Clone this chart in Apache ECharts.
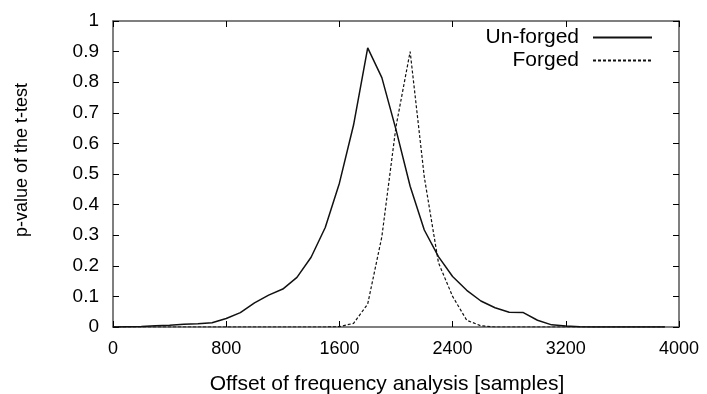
<!DOCTYPE html>
<html>
<head>
<meta charset="utf-8">
<script src="https://cdn.jsdelivr.net/npm/echarts@6/dist/echarts.min.js"></script>
<style>
  html, body { margin: 0; padding: 0; background: #fff; }
  #chart { width: 707px; height: 394px; }
</style>
</head>
<body>
<div id="chart"></div>
<script>
// offsets in samples, every 100
const offsets = [
  0, 100, 200, 300, 400, 500, 600, 700, 800, 900,
  1000, 1100, 1200, 1300, 1400, 1500, 1600, 1700, 1800, 1900,
  2000, 2100, 2200, 2300, 2400, 2500, 2600, 2700, 2800, 2900,
  3000, 3100, 3200, 3300, 3400, 3500, 3600, 3700, 3800, 3900
]
const unforged = [
  0, 0.001, 0.002, 0.004, 0.006, 0.009, 0.011, 0.014, 0.028, 0.047,
  0.079, 0.104, 0.124, 0.162, 0.228, 0.325, 0.47, 0.66, 0.912, 0.815,
  0.645, 0.46, 0.317, 0.23, 0.165, 0.12, 0.085, 0.063, 0.048, 0.047,
  0.022, 0.007, 0.003, 0.001, 0, 0, 0, 0, 0, 0
]
const forged = [
  0, 0, 0, 0, 0, 0, 0, 0, 0, 0,
  0, 0, 0, 0, 0, 0, 0.001, 0.012, 0.075, 0.295,
  0.655, 0.9, 0.49, 0.21, 0.1, 0.022, 0.004, 0, 0, 0,
  0, 0, 0, 0, 0, 0, 0, 0, 0, 0
]
const xTicks = [0, 800, 1600, 2400, 3200, 4000]

const font = 'Liberation Sans, Arial, sans-serif'
const frame = '#555'

const chart = echarts.init(document.getElementById('chart'))

const xBase = {
  type: 'value',
  min: 0,
  max: 4000,
  interval: 800,
  splitLine: { show: false },
  axisLine: { onZero: false, lineStyle: { color: frame, width: 1.5 } },
  axisTick: { inside: true, length: 6, lineStyle: { color: '#000' } }
}
const yBase = {
  type: 'value',
  min: 0,
  max: 1,
  interval: 0.1,
  splitLine: { show: false },
  axisLine: { onZero: false, lineStyle: { color: frame, width: 1.5 } },
  axisTick: { inside: true, length: 6, lineStyle: { color: '#000' } }
}

chart.setOption({
  animation: false,
  textStyle: { fontFamily: font },
  grid: { left: 113, right: 28, top: 21, bottom: 67, outerBoundsMode: 'none' },
  legend: {
    right: 49,
    top: 22,
    orient: 'vertical',
    align: 'right',
    itemGap: 2,
    itemWidth: 59,
    itemHeight: 14,
    itemStyle: { opacity: 0, borderWidth: 0 },
    textStyle: { fontSize: 21, color: '#000', fontFamily: font, padding: [0, 9, 0, 0] },
    data: ['Un-forged', 'Forged']
  },
  xAxis: [
    Object.assign({}, xBase, {
      position: 'bottom',
      name: 'Offset of frequency analysis [samples]',
      nameLocation: 'middle',
      nameGap: 47,
      nameTextStyle: { fontSize: 21, color: '#000', padding: [0, 18, 0, 0] },
      axisLabel: {
        fontSize: 18,
        color: '#000',
        margin: 13,
        formatter: v => xTicks.includes(v) ? String(v) : ''
      }
    }),
    Object.assign({}, xBase, { position: 'top', axisLabel: { show: false } })
  ],
  yAxis: [
    Object.assign({}, yBase, {
      position: 'left',
      name: 'p-value of the t-test',
      nameLocation: 'middle',
      nameGap: 82,
      nameTextStyle: { fontSize: 18, color: '#000', padding: [0, 0, 0, 28] },
      axisLabel: {
        fontSize: 19,
        color: '#000',
        margin: 14,
        formatter: v => String(Math.round(v * 10) / 10)
      }
    }),
    Object.assign({}, yBase, { position: 'right', axisLabel: { show: false } })
  ],
  series: [
    {
      name: 'Un-forged',
      type: 'line',
      symbol: 'none',
      itemStyle: { color: '#111' },
      lineStyle: { color: '#111', width: 1.5 },
      data: offsets.map((x, i) => [x, unforged[i]])
    },
    {
      name: 'Forged',
      type: 'line',
      symbol: 'none',
      itemStyle: { color: '#111' },
      lineStyle: { color: '#111', width: 1.2, type: [3, 2] },
      data: offsets.map((x, i) => [x, forged[i]])
    }
  ]
})
</script>
</body>
</html>
